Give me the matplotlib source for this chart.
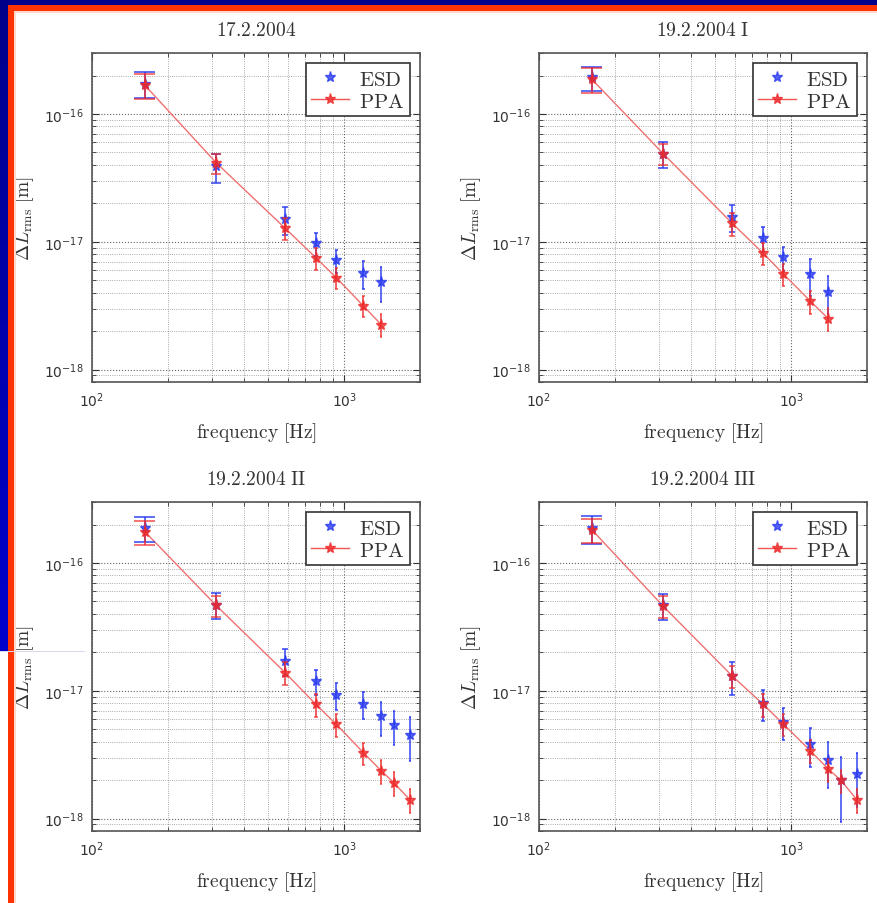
import matplotlib
matplotlib.use("Agg")
import matplotlib.pyplot as plt
from matplotlib.patches import Rectangle
from matplotlib.lines import Line2D
from matplotlib.colors import LinearSegmentedColormap
from matplotlib.ticker import NullFormatter, FixedLocator
import numpy as np

# ---------------- data ----------------
freqs = [162, 311, 583, 773, 931, 1191, 1403, 1578, 1820]

titles = ["17.2.2004", "19.2.2004 I", "19.2.2004 II", "19.2.2004 III"]

ppa_tl = [1.68e-16, 4.15e-17, 1.28e-17, 7.5e-18, 5.24e-18, 3.16e-18, 2.25e-18]
esd_tl = [1.73e-16, 3.9e-17, 1.51e-17, 9.8e-18, 7.16e-18, 5.65e-18, 4.86e-18]
ppa_err_tl = [0.37e-16, 0.75e-17, 0.25e-17, 1.5e-18, 1.0e-18, 0.6e-18, 0.45e-18]
esd_err_tl = [0.39e-16, 1.0e-17, 0.37e-17, 2.0e-18, 1.5e-18, 1.4e-18, 1.5e-18]

ppa_tr = [1.87e-16, 4.89e-17, 1.40e-17, 8.17e-18, 5.61e-18, 3.44e-18, 2.51e-18]
esd_tr = [1.93e-16, 4.89e-17, 1.57e-17, 1.07e-17, 7.56e-18, 5.55e-18, 4.06e-18]
ppa_err_tr = [0.4e-16, 0.9e-17, 0.28e-17, 1.6e-18, 1.1e-18, 0.7e-18, 0.5e-18]
esd_err_tr = [0.42e-16, 1.1e-17, 0.38e-17, 2.4e-18, 1.6e-18, 1.8e-18, 1.35e-18]

ppa_bl = [1.76e-16, 4.65e-17, 1.39e-17, 7.82e-18, 5.47e-18, 3.29e-18, 2.37e-18, 1.90e-18, 1.41e-18]
esd_bl = [1.87e-16, 4.73e-17, 1.71e-17, 1.19e-17, 9.25e-18, 7.87e-18, 6.31e-18, 5.40e-18, 4.51e-18]
ppa_err_bl = [0.38e-16, 0.9e-17, 0.28e-17, 1.6e-18, 1.1e-18, 0.65e-18, 0.5e-18, 0.4e-18, 0.3e-18]
esd_err_bl = [0.4e-16, 1.1e-17, 0.4e-17, 2.6e-18, 2.2e-18, 1.9e-18, 1.9e-18, 1.6e-18, 1.7e-18]

ppa_br = [1.82e-16, 4.59e-17, 1.31e-17, 7.87e-18, 5.5e-18, 3.40e-18, 2.45e-18, 1.99e-18, 1.41e-18]
esd_br = [1.87e-16, 4.65e-17, 1.31e-17, 8.0e-18, 5.73e-18, 3.84e-18, 2.85e-18, 1.99e-18, 2.24e-18]
ppa_err_br = [0.38e-16, 0.9e-17, 0.26e-17, 1.6e-18, 1.1e-18, 0.7e-18, 0.5e-18, 0.4e-18, 0.3e-18]
esd_err_br = [0.45e-16, 1.1e-17, 0.38e-17, 2.2e-18, 1.6e-18, 1.3e-18, 1.1e-18, 1.05e-18, 1.0e-18]

x_major = [1e2, 1e3]
y_major = [1e-18, 1e-17, 1e-16]

panels = [
    (titles[0], ppa_tl, esd_tl, ppa_err_tl, esd_err_tl),
    (titles[1], ppa_tr, esd_tr, ppa_err_tr, esd_err_tr),
    (titles[2], ppa_bl, esd_bl, ppa_err_bl, esd_err_bl),
    (titles[3], ppa_br, esd_br, ppa_err_br, esd_err_br),
]

# ---------------- style ----------------
W, H = 877, 904
fig = plt.figure(figsize=(W / 100, H / 100), dpi=100)
fig.patch.set_facecolor("white")

blue = "#2a3af0"
red = "#ee2a2a"
cap_hw = 15.0  # cap half-width in Hz (MATLAB-style constant data width)


def frect(x, y, w, h, color, z=0):
    fig.add_artist(Rectangle((x / W, 1 - (y + h) / H), w / W, h / H,
                             transform=fig.transFigure, facecolor=color,
                             edgecolor="none", zorder=z))


# slide decoration: left blue band with gradient (navy -> brighter blue)
cmap = LinearSegmentedColormap.from_list("g", ["#00008a", "#0000cc"])
nseg = 40
seg_h = 652 / nseg
for i in range(nseg):
    frect(0, i * seg_h, 8, seg_h + 0.5, cmap(i / (nseg - 1)), 1)
frect(0, 0, W, 6, "#000088", 1)
frect(8, 6, W - 8, 6, "#ff3300", 1)
frect(8, 6, 6, H - 6, "#ff3300", 1)
frect(14, 12, 2, H - 12, "#ffd9cc", 1)
frect(14, 12, W - 14, 1.5, "#ffd9cc", 1)
frect(0, 652, 85, 1, "#d8d8f0", 1)

positions = [(92, 54), (539, 54), (92, 503), (539, 503)]
aw, ah = 328, 329

xmin_ticks = [m * 10 ** e for e in (2, 3) for m in range(2, 10) if m * 10 ** e <= 2000]
ymin_ticks = [m * 10.0 ** e for e in (-19, -18, -17, -16) for m in range(2, 10)
              if 8e-19 <= m * 10.0 ** e <= 3e-16]

for (px, py), (title, ppa, esd, ppa_err, esd_err) in zip(positions, panels):
    ax = fig.add_axes([px / W, 1 - (py + ah) / H, aw / W, ah / H])
    n = len(ppa)
    f = np.array(freqs[:n], dtype=float)
    ax.set_xscale("log")
    ax.set_yscale("log")

    # ESD
    ax.errorbar(f, esd, yerr=esd_err, fmt="*", color=blue, ms=8, mew=1,
                elinewidth=1.3, capsize=0, alpha=0.8, zorder=3)
    lo = np.array(esd) - np.array(esd_err)
    hi = np.array(esd) + np.array(esd_err)
    ax.hlines(lo, f - cap_hw, f + cap_hw, color=blue, lw=1.3, alpha=0.8, zorder=3)
    ax.hlines(hi, f - cap_hw, f + cap_hw, color=blue, lw=1.3, alpha=0.8, zorder=3)

    # PPA
    ax.plot(f, ppa, "-", color="#f07070", lw=1.0, zorder=2)
    ax.errorbar(f, ppa, yerr=ppa_err, fmt="*", color=red, ms=8, mew=1,
                elinewidth=1.3, capsize=0, alpha=0.8, zorder=4)
    lo = np.array(ppa) - np.array(ppa_err)
    hi = np.array(ppa) + np.array(ppa_err)
    ax.hlines(lo, f - cap_hw, f + cap_hw, color=red, lw=1.3, alpha=0.7, zorder=4)
    ax.hlines(hi, f - cap_hw, f + cap_hw, color=red, lw=1.3, alpha=0.7, zorder=4)

    ax.set_xlim(100, 2000)
    ax.set_ylim(8e-19, 3e-16)
    ax.xaxis.set_major_locator(FixedLocator(x_major))
    ax.yaxis.set_major_locator(FixedLocator(y_major))
    ax.xaxis.set_minor_locator(FixedLocator(xmin_ticks))
    ax.yaxis.set_minor_locator(FixedLocator(ymin_ticks))
    ax.xaxis.set_minor_formatter(NullFormatter())
    ax.yaxis.set_minor_formatter(NullFormatter())
    ax.grid(True, which="major", ls=":", color="#222222", lw=0.8, alpha=0.7)
    ax.grid(True, which="minor", ls=":", color="#444444", lw=0.6, alpha=0.6)
    ax.tick_params(which="both", direction="in", top=True, right=True,
                   colors="#333333", labelcolor="#333333")
    ax.tick_params(which="major", length=5, labelsize=10, pad=6)
    ax.tick_params(which="minor", length=3)
    for s in ax.spines.values():
        s.set_color("#555555")
        s.set_linewidth(1.2)

    ax.set_title(r"$\mathrm{" + title.replace(" ", r"\ ") + "}$",
                 math_fontfamily="cm", fontsize=14, pad=13, color="#333333")
    ax.set_xlabel(r"$\mathrm{frequency}\ [\mathrm{Hz}]$", math_fontfamily="cm",
                  fontsize=14, labelpad=8, color="#333333")
    ax.set_ylabel(r"$\Delta L_{\mathrm{rms}}\ [\mathrm{m}]$", math_fontfamily="cm",
                  fontsize=14, labelpad=6, color="#333333")

    handles = [
        Line2D([], [], marker="*", ls="none", color=blue, ms=8, alpha=0.8),
        Line2D([], [], marker="*", ls="-", color=red, ms=8, lw=1.0, alpha=0.8),
    ]
    leg = ax.legend(handles, [r"$\mathrm{ESD}$", r"$\mathrm{PPA}$"], loc="upper right",
                    fontsize=15, fancybox=False, edgecolor="#333333",
                    framealpha=1, borderpad=0.25, labelspacing=0.1,
                    handlelength=1.8, handletextpad=0.5, borderaxespad=0.5)
    leg.get_frame().set_linewidth(1.2)
    for t in leg.get_texts():
        t.set_math_fontfamily("cm")
        t.set_color("#333333")

fig.savefig("out.png", dpi=100)
